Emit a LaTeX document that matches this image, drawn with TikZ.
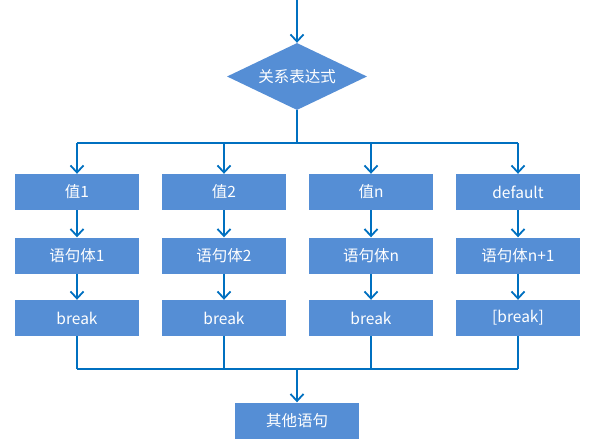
\documentclass[tikz,border=0pt]{standalone}
\usepackage{fontspec}
\setmainfont{Noto Sans CJK SC}
\usetikzlibrary{shapes.geometric,arrows.meta}
\definecolor{boxblue}{HTML}{558ED5}
\definecolor{lineblue}{HTML}{0070C0}
\tikzset{>={Straight Barb[length=7pt,width=13pt]},every node/.style={font=\fontsize{15.5}{18}\selectfont,text=white},
  box/.style={fill=boxblue,minimum width=124pt,minimum height=36pt,inner sep=0pt},
  link/.style={draw=lineblue,line width=1.8pt}}
\begin{document}
\begin{tikzpicture}[x=1pt,y=-1pt]
    \useasboundingbox (0,0) rectangle (596,446);
    \node[diamond,aspect=2.1,fill=boxblue,minimum width=140pt,minimum height=67pt,inner sep=0pt] (cond) at (297,76.5) {关系表达式};
    \coordinate (top) at (297,0);
    \coordinate (split) at (297,143);
    \coordinate (merge) at (297,369);
    \path[->,link] (top) -- (cond);
    \path[link] (cond) -- (split);
    \foreach \i/\x/\v/\s/\b in {1/77/值1/语句体1/break,2/224/值2/语句体2/break,3/371/值n/语句体n/break,4/518/default/语句体n+1/{[break]}}{
        \node[box] (val\i) at (\x,192) {\v};
        \node[box] (body\i) at (\x,255.5) {\s};
        \node[box] (brk\i) at (\x,318) {\b};
        \path[->,link] (split -| val\i) -- (val\i);
        \path[->,link] (val\i) -- (body\i);
        \path[->,link] (body\i) -- (brk\i);
        \path[link] (brk\i) -- (merge -| brk\i);
    }
    \path[link] (split -| val1) -- (split -| val4);
    \path[link] (merge -| brk1) -- (merge -| brk4);
    \node[box] (other) at (297,420.5) {其他语句};
    \path[->,link] (merge) -- (other);
\end{tikzpicture}
\end{document}
